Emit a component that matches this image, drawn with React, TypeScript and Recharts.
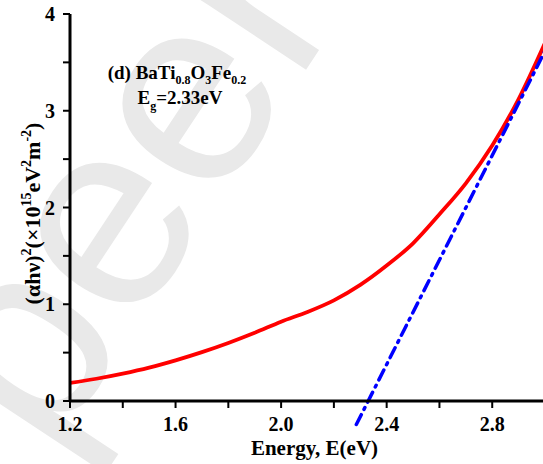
import { LineChart, Line, XAxis, YAxis, ReferenceLine, Customized } from "recharts"

const FONT = '"Times New Roman", "Liberation Serif", serif'

// photon energy (eV) and (αhν)² in 10^15 eV² m⁻²
const ENERGY = [1.2, 1.3, 1.4, 1.5, 1.6, 1.7, 1.8, 1.9, 2.0, 2.1, 2.2, 2.3, 2.4, 2.5, 2.6, 2.7, 2.8, 2.9, 3.0]
const ALPHA_HV_SQ = [0.186, 0.23, 0.283, 0.345, 0.42, 0.505, 0.6, 0.705, 0.82, 0.92, 1.04, 1.2, 1.4, 1.63, 1.93, 2.25, 2.64, 3.12, 3.7]

// linear fit of the absorption edge, intercept Eg = 2.33 eV
const FIT_ENERGY = [2.285, 3.0]
const FIT_VALUE = [-0.243, 3.618]

const X_TICKS = [1.2, 1.4, 1.6, 1.8, 2.0, 2.2, 2.4, 2.6, 2.8, 3.0]
const X_LABELED = [1.2, 1.6, 2.0, 2.4, 2.8]
const Y_TICKS = [0, 0.5, 1, 1.5, 2, 2.5, 3, 3.5, 4]
const Y_MAJOR = [0, 1, 2, 3, 4]
const Y_MINOR = [0.5, 1.5, 2.5, 3.5]

const data = ENERGY.map((e, i) => ({ e, v: ALPHA_HV_SQ[i] }))

const axisLine = { stroke: "#000", strokeWidth: 3 }
const tickLine = { stroke: "#000", strokeWidth: 2 }
const tickText = { fill: "#000", fontSize: 20, fontWeight: "bold", fontFamily: FONT }

function YTitle(props: any) {
  const vb = props.viewBox || { x: 0, y: 14, width: 70, height: 387 }
  const cy = vb.y + vb.height / 2 + 6
  return (
    <text
      transform={`translate(40,${cy}) rotate(-90)`}
      textAnchor="middle"
      fontFamily={FONT}
      fontWeight="bold"
      fontSize={22}
      fill="#000"
    >
      <tspan>(αhν)</tspan>
      <tspan fontSize={14} dy={-9}>2</tspan>
      <tspan dy={9}>(×10</tspan>
      <tspan fontSize={14} dy={-9}>15</tspan>
      <tspan dy={9}>eV</tspan>
      <tspan fontSize={14} dy={-9}>2</tspan>
      <tspan dy={9}>m</tspan>
      <tspan fontSize={14} dy={-9}>-2</tspan>
      <tspan dy={9}>)</tspan>
    </text>
  )
}

function Annotation() {
  return (
    <g fontFamily={FONT} fontWeight="bold" fill="#000">
      <text x={177} y={79} fontSize={19} textAnchor="middle">
        <tspan>(d) BaTi</tspan>
        <tspan fontSize={12} dy={5}>0.8</tspan>
        <tspan dy={-5}>O</tspan>
        <tspan fontSize={12} dy={5}>3</tspan>
        <tspan dy={-5}>Fe</tspan>
        <tspan fontSize={12} dy={5}>0.2</tspan>
      </text>
      <text x={180} y={104} fontSize={19} textAnchor="middle">
        <tspan>E</tspan>
        <tspan fontSize={12} dy={6}>g</tspan>
        <tspan dy={-6}>=2.33eV</tspan>
      </text>
    </g>
  )
}

function Watermark() {
  return (
    <text
      transform="translate(49,458) rotate(-56.5)"
      fontFamily='"Liberation Sans", Arial, sans-serif'
      fontSize={268}
      fill="#e9e9e9"
    >
      peer
    </text>
  )
}

export default function App() {
  return (
    <div style={{ position: "fixed", left: 0, top: 0, width: 543, height: 464, overflow: "hidden", background: "#fff" }}>
      <LineChart width={560} height={464} data={data} margin={{ top: 14, right: 15, left: 0, bottom: 0 }}>
        <Customized component={Watermark} />
        <XAxis
          dataKey="e"
          type="number"
          domain={[1.2, 3.0]}
          ticks={X_TICKS}
          interval={0}
          allowDataOverflow
          height={63}
          tickSize={7}
          tickMargin={9}
          axisLine={axisLine}
          tickLine={tickLine}
          tick={tickText}
          tickFormatter={(v: number) => (X_LABELED.some((t) => Math.abs(t - v) < 1e-6) ? v.toFixed(1) : "")}
          label={{
            value: "Energy, E(eV)",
            position: "insideBottom",
            offset: 9,
            dx: 7,
            fill: "#000",
            fontSize: 21,
            fontWeight: "bold",
            fontFamily: FONT,
          }}
        />
        <XAxis
          xAxisId="top"
          orientation="top"
          type="number"
          domain={[1.2, 3.0]}
          ticks={X_TICKS}
          interval={0}
          allowDataOverflow
          height={0}
          mirror
          tick={false}
          tickSize={5}
          axisLine={axisLine}
          tickLine={tickLine}
        />
        <YAxis
          type="number"
          domain={[0, 4]}
          ticks={Y_TICKS}
          interval={0}
          allowDataOverflow
          width={70}
          tickSize={7}
          tickMargin={8}
          axisLine={axisLine}
          tickLine={tickLine}
          tick={tickText}
          tickFormatter={(v: number) => (Number.isInteger(v) ? String(v) : "")}
          label={{ content: <YTitle /> }}
        />
        <YAxis
          yAxisId="right"
          orientation="right"
          type="number"
          domain={[0, 4]}
          ticks={Y_MAJOR}
          interval={0}
          allowDataOverflow
          width={0}
          mirror
          tick={false}
          tickSize={6}
          axisLine={axisLine}
          tickLine={tickLine}
        />
        <YAxis
          yAxisId="right2"
          orientation="right"
          type="number"
          domain={[0, 4]}
          ticks={Y_MINOR}
          interval={0}
          allowDataOverflow
          width={0}
          mirror
          tick={false}
          tickSize={3}
          axisLine={false}
          tickLine={tickLine}
        />
        <Line
          type="monotone"
          dataKey="v"
          stroke="#ff0000"
          strokeWidth={3.8}
          dot={false}
          activeDot={false}
          isAnimationActive={false}
        />
        <ReferenceLine
          segment={[
            { x: FIT_ENERGY[0], y: FIT_VALUE[0] },
            { x: FIT_ENERGY[1], y: FIT_VALUE[1] },
          ]}
          ifOverflow="visible"
          stroke="#0000ff"
          strokeWidth={3.5}
          strokeDasharray="11 6 2 6"
          strokeLinecap="round"
        />
        <Customized component={Annotation} />
      </LineChart>
    </div>
  )
}
